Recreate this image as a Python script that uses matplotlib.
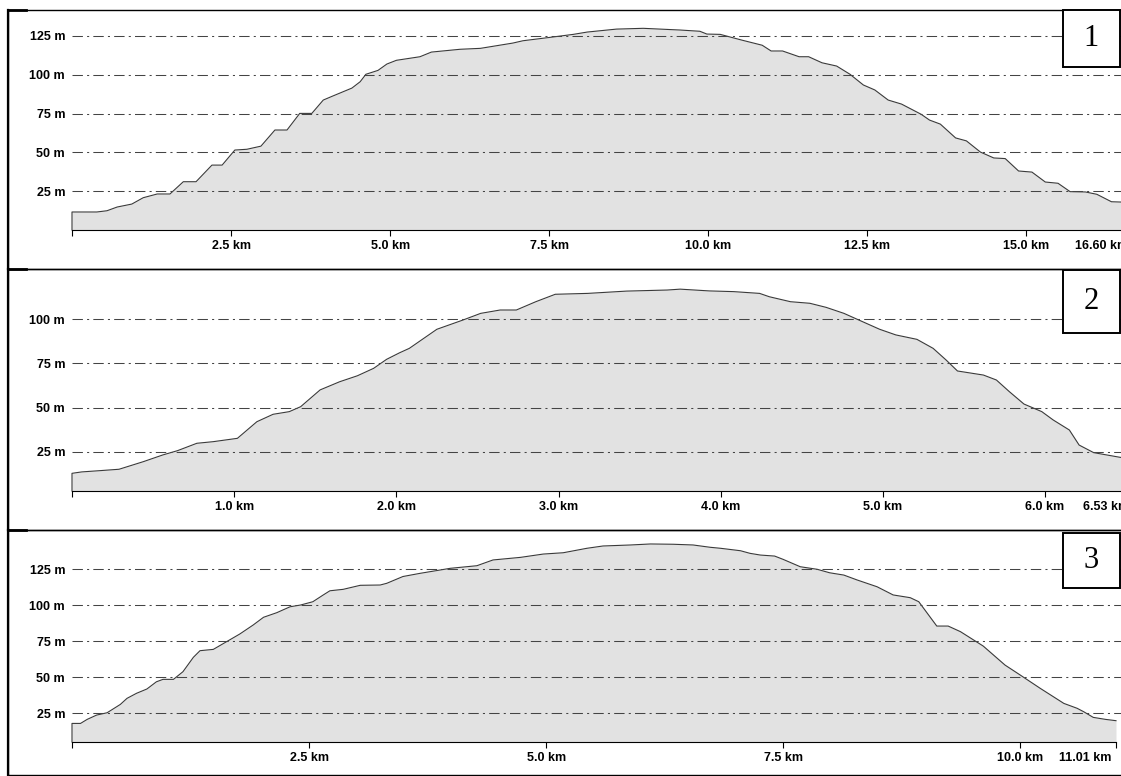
import matplotlib
matplotlib.use('Agg')
import matplotlib.pyplot as plt
from matplotlib.patches import Rectangle
from matplotlib.lines import Line2D

# elevation profiles (km, m)
p1_km = [0.0, 0.39, 0.55, 0.71, 0.94, 1.12, 1.34, 1.54, 1.75, 1.95, 2.2, 2.36,
         2.56, 2.75, 2.97, 3.19, 3.38, 3.58, 3.77, 3.95, 4.10, 4.40, 4.53, 4.62,
         4.81, 4.95, 5.10, 5.47, 5.65, 6.10, 6.42, 6.93, 7.09, 7.52, 7.88, 8.10,
         8.56, 8.98, 9.56, 9.87, 9.98, 10.19, 10.53, 10.85, 10.99, 11.17, 11.43,
         11.58, 11.79, 12.02, 12.23, 12.44, 12.62, 12.83, 13.04, 13.35, 13.48,
         13.65, 13.89, 14.06, 14.28, 14.49, 14.67, 14.88, 15.09, 15.30, 15.50,
         15.69, 15.93, 16.11, 16.34, 16.49, 16.60]
p1_m = [11.6, 11.6, 12.4, 14.8, 16.7, 20.8, 23.2, 23.2, 31.1, 31.1, 41.8, 41.8,
        51.5, 52.0, 54.0, 64.4, 64.4, 75.1, 75.1, 83.7, 86.3, 91.4, 95.5, 100.3,
        102.8, 106.9, 109.3, 111.6, 114.6, 116.4, 117.0, 120.4, 121.9, 124.1,
        126.0, 127.5, 129.4, 129.9, 128.8, 128.0, 126.2, 126.0, 122.3, 119.0,
        115.3, 115.3, 111.6, 111.6, 107.7, 105.6, 100.3, 93.4, 90.2, 83.7, 81.1,
        74.5, 70.8, 68.2, 59.3, 57.4, 50.2, 46.4, 46.0, 38.0, 37.3, 30.9, 30.1,
        24.7, 24.5, 23.0, 18.2, 18.0, 17.0]

p2_km = [0.0, 0.06, 0.17, 0.29, 0.44, 0.56, 0.65, 0.77, 0.87, 1.02, 1.14, 1.24,
         1.34, 1.41, 1.53, 1.65, 1.76, 1.86, 1.94, 2.02, 2.08, 2.25, 2.41, 2.52,
         2.64, 2.74, 2.86, 2.98, 3.18, 3.42, 3.67, 3.75, 3.93, 4.08, 4.24, 4.30,
         4.43, 4.55, 4.65, 4.76, 4.86, 4.98, 5.08, 5.21, 5.31, 5.39, 5.46, 5.62,
         5.70, 5.78, 5.87, 5.98, 6.05, 6.15, 6.21, 6.30, 6.46, 6.53]
p2_m = [12.8, 13.6, 14.3, 15.1, 19.4, 23.2, 25.6, 29.8, 30.7, 32.6, 42.0, 46.2,
        47.7, 50.5, 60.0, 64.6, 68.0, 72.2, 77.3, 81.0, 83.5, 94.3, 99.5, 103.3,
        105.2, 105.2, 109.9, 114.1, 114.6, 115.9, 116.5, 117.0, 116.0, 115.6,
        114.6, 112.7, 109.9, 109.0, 106.7, 103.3, 99.2, 94.3, 91.1, 88.6, 83.5,
        76.9, 70.7, 68.4, 65.6, 59.0, 52.0, 47.7, 43.0, 37.3, 28.8, 24.5, 21.9,
        21.0]

p3_km = [0.0, 0.09, 0.16, 0.26, 0.37, 0.51, 0.58, 0.68, 0.79, 0.89, 0.96, 1.07,
         1.17, 1.28, 1.35, 1.49, 1.60, 1.77, 1.91, 2.02, 2.16, 2.30, 2.41, 2.54,
         2.65, 2.72, 2.86, 3.04, 3.25, 3.32, 3.49, 3.67, 3.99, 4.27, 4.44, 4.73,
         4.97, 5.18, 5.43, 5.60, 5.89, 6.10, 6.34, 6.55, 6.73, 6.84, 7.05, 7.15,
         7.26, 7.41, 7.50, 7.68, 7.86, 7.99, 8.14, 8.28, 8.49, 8.66, 8.84, 8.93,
         9.12, 9.24, 9.37, 9.61, 9.84, 10.00, 10.21, 10.46, 10.60, 10.67, 10.77,
         10.90, 11.01]
p3_m = [18.0, 18.0, 20.8, 23.8, 25.4, 31.2, 35.4, 38.9, 41.9, 46.9, 48.6, 48.6,
        53.9, 63.9, 68.5, 69.4, 73.6, 80.1, 86.3, 91.7, 94.9, 99.0, 100.2, 102.5,
        107.2, 110.1, 111.1, 113.9, 114.1, 115.3, 120.0, 122.2, 125.7, 127.5,
        131.5, 133.3, 135.6, 136.5, 139.6, 141.2, 141.9, 142.6, 142.4, 141.9,
        140.3, 139.6, 137.9, 136.1, 134.9, 134.2, 131.9, 126.8, 125.0, 122.6,
        121.0, 117.6, 112.9, 107.2, 105.3, 102.5, 85.6, 85.6, 81.7, 71.7, 58.5,
        51.6, 42.4, 31.9, 28.5, 26.1, 22.2, 20.8, 19.9]

p1_xticks = [0, 2.5, 5.0, 7.5, 10.0, 12.5, 15.0, 16.6]
p1_xlabels = ['', '2.5 km', '5.0 km', '7.5 km', '10.0 km', '12.5 km', '15.0 km', '16.60 km']
p2_xticks = [0, 1.0, 2.0, 3.0, 4.0, 5.0, 6.0, 6.53]
p2_xlabels = ['', '1.0 km', '2.0 km', '3.0 km', '4.0 km', '5.0 km', '6.0 km', '6.53 km']
p3_xticks = [0, 2.5, 5.0, 7.5, 10.0, 11.01]
p3_xlabels = ['', '2.5 km', '5.0 km', '7.5 km', '10.0 km', '11.01 km']

p1_yticks = [25, 50, 75, 100, 125]
p2_yticks = [25, 50, 75, 100]
p3_yticks = [25, 50, 75, 100, 125]

W, H = 1121, 776
FILL = '#e2e2e2'
LINE = '#3a3a3a'
FONT = 'Liberation Sans'


def px_rect(x0, y0, x1, y1):
    # pixel box (top-left origin) -> figure fraction rect
    return [x0 / W, 1 - y1 / H, (x1 - x0) / W, (y1 - y0) / H]


fig = plt.figure(figsize=(W / 100, H / 100), dpi=100)
fig.patch.set_facecolor('white')

panels = [
    # data, ticks, pixel layout: axes left/top/right/baseline, ylim, panel top/bottom, box,
    # shift of the end label (px, right-aligned)
    dict(km=p1_km, m=p1_m, xt=p1_xticks, xl=p1_xlabels, yt=p1_yticks,
         ax_px=(72, 10, 1128, 230), ylim=(0, 141.7), top=10, bottom=269,
         box=(1063, 10, 1120, 67), num='1', end_dx=0),
    dict(km=p2_km, m=p2_m, xt=p2_xticks, xl=p2_xlabels, yt=p2_yticks,
         ax_px=(72, 269, 1131, 491), ylim=(2.8, 128.4), top=269, bottom=530,
         box=(1063, 270, 1120, 333), num='2', end_dx=-2),
    dict(km=p3_km, m=p3_m, xt=p3_xticks, xl=p3_xlabels, yt=p3_yticks,
         ax_px=(72, 530, 1116, 742), ylim=(5.1, 152.3), top=530, bottom=775,
         box=(1063, 533, 1120, 588), num='3', end_dx=-5),
]

for p in panels:
    x0, y0, x1, y1 = p['ax_px']
    ax = fig.add_axes(px_rect(x0, y0, x1, y1))
    ax.set_facecolor('none')
    ymin, ymax = p['ylim']
    km, m = p['km'], p['m']

    ax.fill_between(km, m, ymin, color=FILL, lw=0, zorder=1)
    ax.plot([0] + km, [ymin] + m, color=LINE, lw=0.8, zorder=2, clip_on=False)

    for yv in p['yt']:
        ax.axhline(yv, xmin=0, xmax=1.01, color='#444444', lw=0.75,
                   dashes=(10, 4, 2, 4), zorder=3, clip_on=False)

    ax.set_xlim(0, km[-1])
    ax.set_ylim(ymin, ymax)
    # last tick label sits to the left of its tick, as in the original
    ax.set_xticks(p['xt'], p['xl'][:-1] + [''])
    ax.annotate(p['xl'][-1], xy=(p['xt'][-1], ymin), xycoords='data',
                xytext=(p['end_dx'], -10), textcoords='offset pixels',
                ha='right', va='top', family=FONT, fontweight='bold',
                fontsize=9, annotation_clip=False)
    ax.set_yticks(p['yt'], [f'{v} m' for v in p['yt']])
    for side in ('top', 'right', 'left'):
        ax.spines[side].set_visible(False)
    ax.spines['bottom'].set_color('black')
    ax.spines['bottom'].set_linewidth(0.8)
    ax.spines['bottom'].set_zorder(4)
    ax.tick_params(axis='x', direction='out', length=4, width=0.8, pad=3,
                   color='black')
    ax.tick_params(axis='y', length=0, pad=5)
    for lab in ax.get_xticklabels() + ax.get_yticklabels():
        lab.set_fontfamily(FONT)
        lab.set_fontweight('bold')
        lab.set_fontsize(9)

    # panel frame
    top, bottom = p['top'], p['bottom']
    fig.add_artist(Rectangle((8 / W, 1 - bottom / H), (1200 - 8) / W, (bottom - top) / H,
                             transform=fig.transFigure, fill=False,
                             edgecolor='black', lw=1.0, zorder=5))
    fig.add_artist(Line2D([8 / W, 8 / W], [1 - top / H, 1 - bottom / H],
                          transform=fig.transFigure, color='black', lw=1.6, zorder=5))
    fig.add_artist(Line2D([8 / W, 26 / W], [1 - top / H, 1 - top / H],
                          transform=fig.transFigure, color='black', lw=2.0, zorder=5))

    # number box
    bx0, by0, bx1, by1 = p['box']
    fig.add_artist(Rectangle((bx0 / W, 1 - by1 / H), (bx1 - bx0) / W, (by1 - by0) / H,
                             transform=fig.transFigure, facecolor='white',
                             edgecolor='black', lw=1.4, zorder=6))
    fig.text((bx0 + bx1) / 2 / W, 1 - (by0 + by1) / 2 / H, p['num'],
             family='Liberation Serif', fontsize=22, ha='center', va='center',
             zorder=7)

fig.savefig('out.png', dpi=100)
